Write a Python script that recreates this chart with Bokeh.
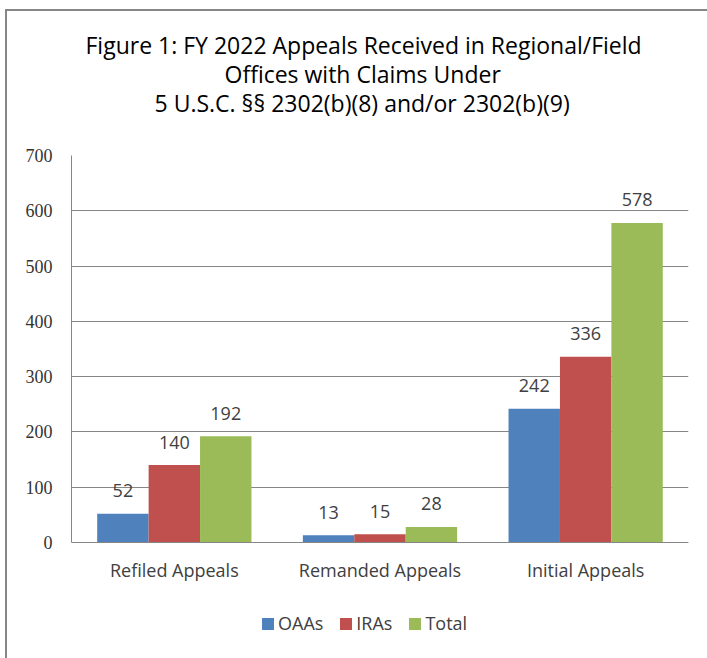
from bokeh.plotting import figure
from bokeh.models import ColumnDataSource, FactorRange, Range1d, Legend, LegendItem, Title
from bokeh.transform import dodge
from bokeh.core.properties import value
from bokeh.embed import file_html
from bokeh.resources import INLINE

categories = ["Refiled Appeals", "Remanded Appeals", "Initial Appeals"]
oaas = [52, 13, 242]
iras = [140, 15, 336]
total = [192, 28, 578]
series_names = ["OAAs", "IRAs", "Total"]
colors = ["#4F81BD", "#C0504D", "#9BBB59"]
y_ticks = [0, 100, 200, 300, 400, 500, 600, 700]
title_lines = [
    "Figure 1: FY 2022 Appeals Received in Regional/Field",
    "Offices with Claims Under",
    "5 U.S.C. \u00a7\u00a7 2302(b)(8) and/or 2302(b)(9)",
]
title_offsets = [14, 153, 83]

W, H = 707, 658
FL, FR, FT = 71, 19, 155
Y_MIN, Y_MAX = -210, 700   # lower part of the frame holds category labels and legend

src = ColumnDataSource(dict(
    cat=categories,
    OAAs=oaas, IRAs=iras, Total=total,
    OAAs_t=[str(v) for v in oaas],
    IRAs_t=[str(v) for v in iras],
    Total_t=[str(v) for v in total],
))

p = figure(x_range=FactorRange(*categories, range_padding=0),
           y_range=Range1d(Y_MIN, Y_MAX),
           width=W, height=H, output_backend="svg", toolbar_location=None,
           min_border_left=FL, min_border_right=FR, min_border_top=FT, min_border_bottom=0,
           title=None)
p.outline_line_color = None
p.background_fill_color = "white"
p.border_fill_color = None
p.styles = {
    "background-color": "white",
    "background-image": "linear-gradient(#878787, #878787), linear-gradient(#878787, #878787)",
    "background-size": "2px 100%, 100% 2px",
    "background-position": "5px 9px, 5px 9px",
    "background-repeat": "no-repeat",
}

font = "Open Sans"
txt_color = "#404040"

offsets = [-0.25, 0.0, 0.25]
renderers = []
for name, col, off in zip(series_names, colors, offsets):
    r = p.vbar(x=dodge("cat", off, range=p.x_range), top=name, width=0.25,
               source=src, fill_color=col, line_color=None)
    renderers.append(r)
    p.text(x=dodge("cat", off, range=p.x_range), y=name, text=name + "_t", source=src,
           text_align="center", text_baseline="alphabetic", y_offset=-23,
           text_font=value(font), text_font_size="18px", text_color=txt_color)

# axes
p.yaxis.ticker = y_ticks
p.yaxis.bounds = (0, 700)
p.yaxis.major_tick_line_color = None
p.yaxis.minor_tick_line_color = None
p.yaxis.axis_line_color = "#868686"
p.yaxis.major_label_text_font = "Liberation Serif"
p.yaxis.major_label_text_font_size = "18px"
p.yaxis.major_label_text_color = "#333333"
p.yaxis.major_label_standoff = 13

p.xaxis.fixed_location = 0
p.xaxis.major_tick_line_color = None
p.xaxis.minor_tick_line_color = None
p.xaxis.axis_line_color = "#868686"
p.xaxis.major_label_text_font = font
p.xaxis.major_label_text_font_size = "18px"
p.xaxis.major_label_text_color = txt_color
p.xaxis.major_label_standoff = 10

p.xgrid.grid_line_color = None
p.ygrid.grid_line_color = "#868686"
p.ygrid.grid_line_width = 1

# title: spacer then lines (added inner to outer)
p.add_layout(Title(text=" ", text_font=font, text_font_size="27px", standoff=0), "above")
for t, off in reversed(list(zip(title_lines, title_offsets))):
    p.add_layout(Title(text=t, align="left", offset=off, standoff=-5, vertical_align="bottom",
                       text_font=font, text_font_size="23px", text_font_style="normal",
                       text_color="#000000"), "above")

legend = Legend(items=[LegendItem(label=n, renderers=[r]) for n, r in zip(series_names, renderers)],
                orientation="horizontal", location=(189, 23),
                padding=0, margin=0, spacing=15, label_standoff=3,
                glyph_width=15, glyph_height=15, label_height=20,
                label_text_font=font, label_text_font_size="18px", label_text_color=txt_color,
                background_fill_alpha=0, border_line_color=None)
p.add_layout(legend, "center")

open("out.html", "w").write(file_html(p, INLINE))
